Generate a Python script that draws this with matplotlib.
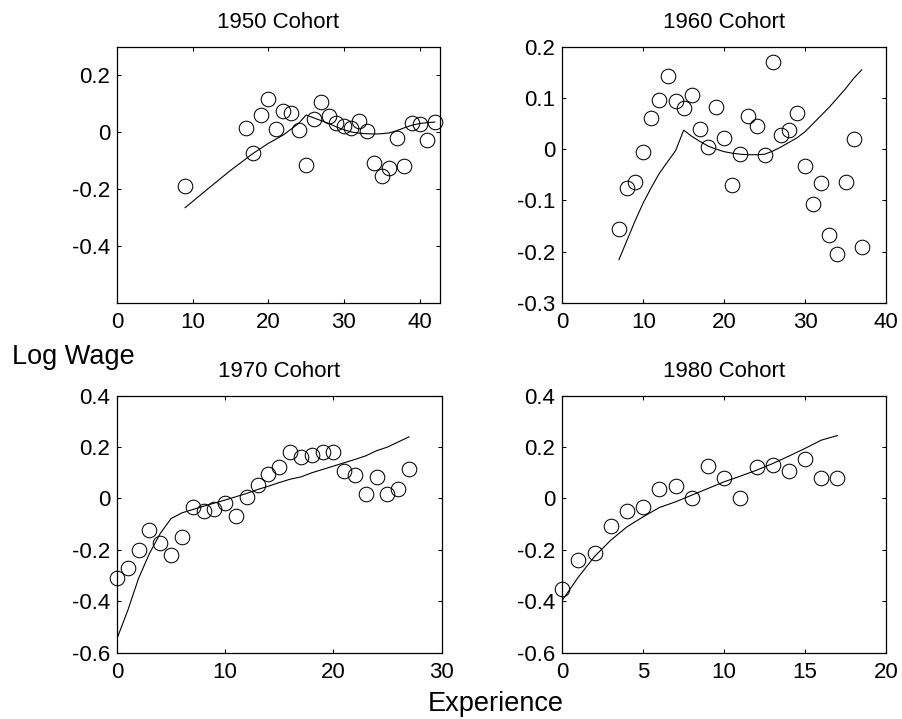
import numpy as np
import matplotlib
matplotlib.use('Agg')
import matplotlib.pyplot as plt

plt.rcParams['font.family'] = ['Liberation Sans', 'DejaVu Sans']

# ---- data ----
# 1950 cohort
exp50 = [9, 17, 18, 19, 20, 21, 22, 23, 24, 25, 26, 27, 28, 29, 30, 31, 32, 33,
         34, 35, 36, 37, 38, 39, 40, 41, 42]
obs50 = [-0.189, 0.015, -0.072, 0.061, 0.115, 0.011, 0.073, 0.067, 0.008, -0.115,
         0.047, 0.105, 0.056, 0.032, 0.022, 0.015, 0.040, 0.002, -0.109, -0.153,
         -0.127, -0.021, -0.121, 0.032, 0.028, -0.028, 0.035]
fitx50 = [9, 12, 15, 18, 20, 22, 24, 25, 26, 27, 28, 29, 30, 31, 32, 33, 34, 35,
          36, 37, 38, 39, 40, 41, 42]
fit50 = [-0.266, -0.200, -0.135, -0.075, -0.040, -0.010, 0.030, 0.060, 0.050,
         0.040, 0.030, 0.018, 0.008, 0.000, -0.004, -0.006, -0.007, -0.006,
         -0.003, 0.005, 0.015, 0.024, 0.030, 0.033, 0.035]

# 1960 cohort
exp60 = list(range(7, 38))
obs60 = [-0.157, -0.075, -0.064, -0.005, 0.060, 0.096, 0.142, 0.093, 0.080, 0.105,
         0.040, 0.005, 0.083, 0.022, -0.071, -0.009, 0.064, 0.045, -0.012, 0.170,
         0.027, 0.037, 0.070, -0.033, -0.108, -0.067, -0.167, -0.205, -0.064,
         0.019, -0.192]
fit60 = [-0.216, -0.178, -0.140, -0.105, -0.075, -0.047, -0.025, -0.003, 0.037,
         0.025, 0.015, 0.006, 0.000, -0.005, -0.008, -0.010, -0.011, -0.011,
         -0.010, -0.004, 0.004, 0.013, 0.022, 0.034, 0.050, 0.066, 0.082, 0.100,
         0.118, 0.138, 0.155]

# 1970 cohort
exp70 = list(range(0, 28))
obs70 = [-0.308, -0.269, -0.199, -0.123, -0.175, -0.218, -0.149, -0.032, -0.049,
         -0.039, -0.019, -0.068, 0.004, 0.052, 0.097, 0.121, 0.182, 0.160, 0.169,
         0.181, 0.182, 0.108, 0.091, 0.016, 0.084, 0.016, 0.036, 0.113]
fit70 = [-0.545, -0.435, -0.310, -0.214, -0.136, -0.078, -0.056, -0.043, -0.030,
         -0.018, -0.006, 0.007, 0.020, 0.035, 0.048, 0.062, 0.075, 0.084, 0.100,
         0.113, 0.126, 0.139, 0.152, 0.166, 0.186, 0.200, 0.220, 0.240]

# 1980 cohort
exp80 = list(range(0, 18))
obs80 = [-0.351, -0.240, -0.212, -0.108, -0.048, -0.032, 0.036, 0.049, 0.003,
         0.126, 0.078, 0.003, 0.121, 0.132, 0.108, 0.155, 0.078, 0.078]
fit80 = [-0.396, -0.305, -0.225, -0.162, -0.110, -0.071, -0.035, -0.013, 0.013,
         0.039, 0.065, 0.087, 0.110, 0.136, 0.165, 0.195, 0.227, 0.245]

titles = ['1950 Cohort', '1960 Cohort', '1970 Cohort', '1980 Cohort']

W, H = 902, 719
fig = plt.figure(figsize=(W / 100, H / 100), dpi=100)

# axes boxes in pixels: left, top, right, bottom
boxes = [(117, 46.7, 440, 302.7), (562.3, 46.7, 886, 302.7),
         (117, 395.7, 441.5, 652.7), (562.3, 395.7, 886, 652.7)]

panels = [
  (exp50, obs50, fitx50, fit50, (0, 42.7), [0, 10, 20, 30, 40], (-0.6, 0.3), [-0.4, -0.2, 0, 0.2]),
  (exp60, obs60, exp60, fit60, (0, 40), [0, 10, 20, 30, 40], (-0.3, 0.2), [-0.3, -0.2, -0.1, 0, 0.1, 0.2]),
  (exp70, obs70, exp70, fit70, (0, 30), [0, 10, 20, 30], (-0.6, 0.4), [-0.6, -0.4, -0.2, 0, 0.2, 0.4]),
  (exp80, obs80, exp80, fit80, (0, 20), [0, 5, 10, 15, 20], (-0.6, 0.4), [-0.6, -0.4, -0.2, 0, 0.2, 0.4]),
]

def fmt(v):
  if abs(v) < 1e-9:
    return '0'
  return ('%.1f' % v)

for i, (xo, yo, xf, yf, xl, xt, yl, yt) in enumerate(panels):
  l, t, r, b = boxes[i]
  ax = fig.add_axes([l / W, 1 - b / H, (r - l) / W, (b - t) / H])
  ax.plot(xf, yf, color='black', lw=0.8)
  # circles are not clipped at the box, as in the original
  ax.plot(xo, yo, 'o', mfc='none', mec='black', ms=10.5, mew=0.75, clip_on=False)
  ax.set_xlim(*xl)
  ax.set_ylim(*yl)
  ax.set_xticks(xt)
  ax.set_xticklabels([str(v) for v in xt])
  ax.set_yticks(yt)
  ax.set_yticklabels([fmt(v) for v in yt])
  ax.tick_params(direction='in', top=True, right=True, length=3, width=0.75,
                 labelsize=16, colors='black')
  ax.tick_params(axis='x', pad=7)
  ax.tick_params(axis='y', pad=5)
  for s in ax.spines.values():
    s.set_linewidth(0.9)
  ax.set_title(titles[i], fontsize=16, pad=13.5)

fig.text(12 / W, 1 - 364 / H, 'Log Wage', fontsize=19.5, ha='left', va='baseline')
fig.text(496 / W, 1 - 711 / H, 'Experience', fontsize=19.5, ha='center', va='baseline')

fig.savefig('out.png', dpi=100)
